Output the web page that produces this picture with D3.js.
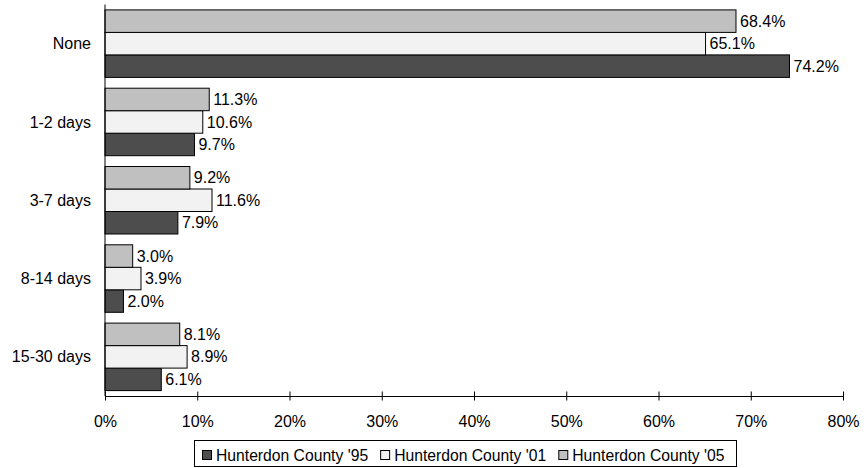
<!DOCTYPE html>
<html>
<head>
<meta charset="utf-8">
<script src="https://cdn.jsdelivr.net/npm/d3@7"></script>
<style>
  body { margin: 0; background: #fff; }
  text { font-family: "Liberation Sans", Arial, sans-serif; font-size: 16px; fill: #000; }
</style>
</head>
<body>
<svg id="chart" width="867" height="468"></svg>
<script>
const categories = ['None', '1-2 days', '3-7 days', '8-14 days', '15-30 days'];
const seriesNames = ["Hunterdon County '95", "Hunterdon County '01", "Hunterdon County '05"];
const values95 = [74.2, 9.7, 7.9, 2.0, 6.1];
const values01 = [65.1, 10.6, 11.6, 3.9, 8.9];
const values05 = [68.4, 11.3, 9.2, 3.0, 8.1];
const seriesColors = ['#4d4d4d', '#f2f2f2', '#c0c0c0'];
const xTicks = [0, 10, 20, 30, 40, 50, 60, 70, 80];

const series = [
  { name: seriesNames[0], values: values95, color: seriesColors[0] },
  { name: seriesNames[1], values: values01, color: seriesColors[1] },
  { name: seriesNames[2], values: values05, color: seriesColors[2] },
];

const svg = d3.select('#chart');
const plotLeft = 105, plotRight = 843, plotTop = 4.5, plotBottom = 396;

const x = d3.scaleLinear().domain([0, 80]).range([plotLeft, plotRight]);
const y = d3.scaleBand().domain(categories).range([plotTop, plotBottom]).padding(0);
// top to bottom within group: '05, '01, '95
const inner = d3.scaleBand()
  .domain([2, 1, 0])
  .range([0, y.bandwidth()])
  .paddingInner(0)
  .paddingOuter(0.24);

// bars
series.forEach((s, si) => {
  const g = svg.append('g');
  g.selectAll('rect')
    .data(categories)
    .enter().append('rect')
    .attr('x', x(0))
    .attr('y', c => y(c) + inner(si))
    .attr('width', (c, i) => x(s.values[i]) - x(0))
    .attr('height', inner.bandwidth())
    .attr('fill', s.color)
    .attr('stroke', '#000')
    .attr('stroke-width', 1);
  g.selectAll('text')
    .data(categories)
    .enter().append('text')
    .attr('x', (c, i) => x(s.values[i]) + 4)
    .attr('y', c => y(c) + inner(si) + inner.bandwidth() / 2)
    .attr('dy', '0.35em')
    .text((c, i) => s.values[i].toFixed(1) + '%');
});

// y axis
svg.append('line')
  .attr('x1', x(0)).attr('x2', x(0))
  .attr('y1', plotTop).attr('y2', plotBottom)
  .attr('stroke', '#000');
svg.append('g').selectAll('text')
  .data(categories)
  .enter().append('text')
  .attr('x', 91)
  .attr('y', c => y(c) + y.bandwidth() / 2)
  .attr('dy', '0.35em')
  .attr('text-anchor', 'end')
  .text(c => c);

// x axis
const xAxis = svg.append('g')
  .attr('transform', `translate(0,${plotBottom})`)
  .call(d3.axisBottom(x).tickValues(xTicks).tickSize(4.5).tickSizeOuter(0).tickFormat(d => d + '%'));
xAxis.attr('font-size', null).attr('font-family', null);
xAxis.select('.domain').attr('stroke', '#000');
xAxis.selectAll('.tick line').attr('y1', -4.5).attr('stroke', '#000');
xAxis.selectAll('.tick text')
  .attr('y', 25)
  .attr('dy', '0.35em');

// legend
const legend = svg.append('g');
legend.append('rect')
  .attr('x', 194.5).attr('y', 440.5)
  .attr('width', 542).attr('height', 26)
  .attr('fill', '#fff').attr('stroke', '#000');
let lx = 202;
series.forEach(s => {
  legend.append('rect')
    .attr('x', lx + 0.5).attr('y', 450.5)
    .attr('width', 9).attr('height', 9)
    .attr('fill', s.color).attr('stroke', '#000');
  const t = legend.append('text')
    .attr('x', lx + 14)
    .attr('y', 456)
    .attr('dy', '0.35em')
    .style('font-size', '15.7px')
    .text(s.name);
  lx += 14 + t.node().getComputedTextLength() + 12;
});
</script>
</body>
</html>
